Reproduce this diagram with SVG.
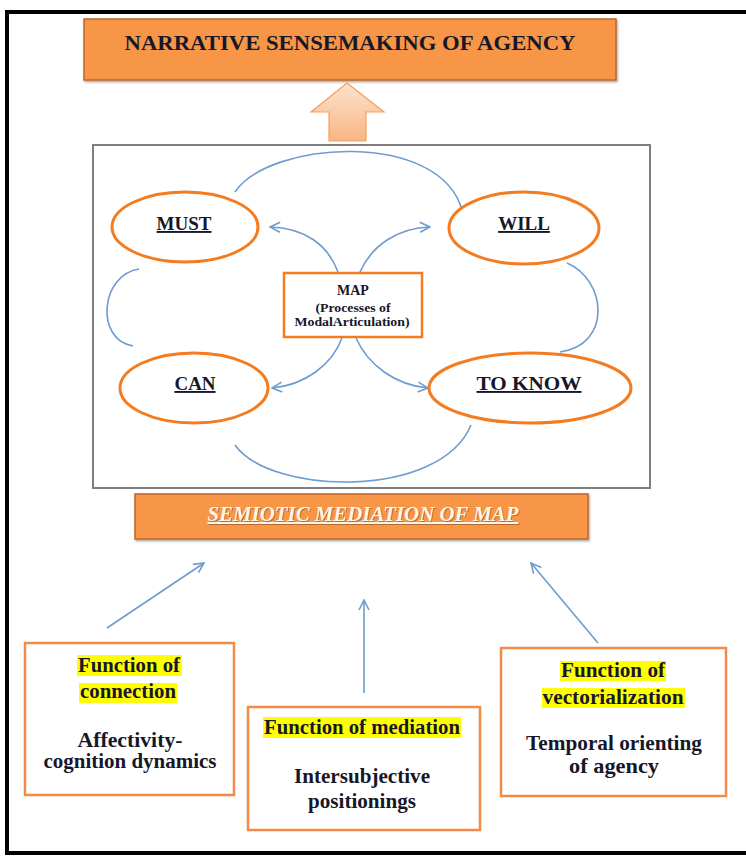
<svg xmlns="http://www.w3.org/2000/svg" width="746" height="856" viewBox="0 0 746 856">
<defs>
<style>
.ser{font-weight:bold;fill:#17172a}
.ell{fill:#fff;stroke:#f47c20;stroke-width:3}
.con{fill:none;stroke:#6e9bd1;stroke-width:1.6}
.fbox{fill:#fff;stroke:#f38b45;stroke-width:2.5}
.hl{fill:#ffff00}
.ob{fill:#f79646;stroke:#c0642a;stroke-width:1.5}
</style>
<linearGradient id="ag" x1="0" y1="0" x2="0" y2="1">
<stop offset="0" stop-color="#fde3cc"/>
<stop offset="1" stop-color="#f8b584"/>
</linearGradient>
<marker id="ah" viewBox="0 0 12 12" refX="11" refY="6" markerWidth="12" markerHeight="12" markerUnits="userSpaceOnUse" orient="auto">
<path d="M1,1 L11,6 L1,11" fill="none" stroke="#6e9bd1" stroke-width="1.6"/>
</marker>
<filter id="sh" x="-5%" y="-5%" width="110%" height="120%">
<feDropShadow dx="1" dy="1.5" stdDeviation="1" flood-color="#000" flood-opacity="0.35"/>
</filter>
</defs>
<rect x="0" y="0" width="746" height="856" fill="#fff"/>
<rect id="frame" x="7" y="12" width="760" height="841" fill="none" stroke="#000" stroke-width="4"/>

<g font-family="Liberation Serif, Times New Roman, serif">
<g id="title">
<rect class="ob" x="84" y="19" width="532" height="61" filter="url(#sh)"/>
<text class="ser" x="350" y="50" font-size="22" text-anchor="middle" textLength="451" lengthAdjust="spacingAndGlyphs">NARRATIVE  SENSEMAKING  OF AGENCY</text>
</g>

<g id="uparrow">
<path d="M347,83 L384,112 L366,112 L366,141 L329,141 L329,112 L311,112 Z" fill="url(#ag)" stroke="#f4a060" stroke-width="1.2"/>
</g>

<g id="inner">
<rect x="93" y="145" width="557" height="343" fill="#fff" stroke="#7f7f7f" stroke-width="2"/>
</g>

<g id="connectors">
<path class="con" d="M235,192 C270,140 440,130 462,210"/>
<path class="con" d="M567,263 C607,280 612,345 560,352"/>
<path class="con" d="M139,269 C100,275 95,340 133,346"/>
<path class="con" d="M235,445 C270,495 440,500 471,425"/>
<path class="con" d="M338,272 C328,245 305,228 270,227" marker-end="url(#ah)"/>
<path class="con" d="M360,272 C372,245 398,228 430,227" marker-end="url(#ah)"/>
<path class="con" d="M342,338 C332,365 305,385 272,388" marker-end="url(#ah)"/>
<path class="con" d="M356,338 C368,365 395,385 428,388" marker-end="url(#ah)"/>
<path class="con" d="M107,628 L204,563" marker-end="url(#ah)"/>
<path class="con" d="M364,693 L364,600" marker-end="url(#ah)"/>
<path class="con" d="M598,643 L531,563" marker-end="url(#ah)"/>
</g>

<g id="must">
<ellipse class="ell" cx="185" cy="227" rx="73" ry="35"/>
<text class="ser" x="184" y="230" font-size="19" text-anchor="middle" text-decoration="underline">MUST</text>
</g>
<g id="will">
<ellipse class="ell" cx="524" cy="228" rx="75" ry="36"/>
<text class="ser" x="524" y="230" font-size="19" text-anchor="middle" text-decoration="underline">WILL</text>
</g>
<g id="can">
<ellipse class="ell" cx="194" cy="388" rx="74" ry="35"/>
<text class="ser" x="195" y="390" font-size="19" text-anchor="middle" text-decoration="underline">CAN</text>
</g>
<g id="toknow">
<ellipse class="ell" cx="530" cy="388" rx="101" ry="35"/>
<text class="ser" x="529" y="390" font-size="19" text-anchor="middle" text-decoration="underline" textLength="105" lengthAdjust="spacingAndGlyphs">TO  KNOW</text>
</g>

<g id="map">
<rect x="284" y="273" width="138" height="64" fill="#fff" stroke="#f47c20" stroke-width="2.5"/>
<text class="ser" x="353" y="295" font-size="14" text-anchor="middle">MAP</text>
<text class="ser" x="353" y="312" font-size="12" text-anchor="middle" textLength="75" lengthAdjust="spacingAndGlyphs">(Processes of</text>
<text class="ser" x="352" y="326" font-size="12" text-anchor="middle" textLength="115" lengthAdjust="spacingAndGlyphs">ModalArticulation)</text>
</g>

<g id="semiotic">
<rect class="ob" x="135" y="494" width="453" height="45" filter="url(#sh)"/>
<text x="364" y="522" font-size="20" font-weight="bold" font-style="italic" text-anchor="middle" fill="#7a3d10" opacity="0.5" textLength="311" lengthAdjust="spacingAndGlyphs" text-decoration="underline">SEMIOTIC MEDIATION OF MAP</text>
<text x="363" y="521" font-size="20" font-weight="bold" font-style="italic" text-anchor="middle" fill="#fff6ea" textLength="311" lengthAdjust="spacingAndGlyphs" text-decoration="underline">SEMIOTIC MEDIATION OF MAP</text>
</g>

<g id="f-connection">
<rect class="fbox" x="25" y="643" width="209" height="152"/>
<rect class="hl" x="77" y="655" width="105" height="21"/>
<rect class="hl" x="79" y="683" width="98" height="20"/>
<text class="ser" x="129" y="672" font-size="20" text-anchor="middle" textLength="102" lengthAdjust="spacingAndGlyphs">Function of</text>
<text class="ser" x="128" y="698" font-size="20" text-anchor="middle" textLength="96" lengthAdjust="spacingAndGlyphs">connection</text>
<text class="ser" x="130" y="747" font-size="20" text-anchor="middle" textLength="105" lengthAdjust="spacingAndGlyphs">Affectivity-</text>
<text class="ser" x="130" y="768" font-size="20" text-anchor="middle" textLength="173" lengthAdjust="spacingAndGlyphs">cognition dynamics</text>
</g>

<g id="f-mediation">
<rect class="fbox" x="248" y="707" width="232" height="123"/>
<rect class="hl" x="263" y="717" width="198" height="21"/>
<text class="ser" x="362" y="734" font-size="20" text-anchor="middle" textLength="196" lengthAdjust="spacingAndGlyphs">Function of mediation</text>
<text class="ser" x="362" y="783" font-size="20" text-anchor="middle" textLength="136" lengthAdjust="spacingAndGlyphs">Intersubjective</text>
<text class="ser" x="362" y="808" font-size="20" text-anchor="middle" textLength="108" lengthAdjust="spacingAndGlyphs">positionings</text>
</g>

<g id="f-vectorialization">
<rect class="fbox" x="501" y="648" width="225" height="148"/>
<rect class="hl" x="560" y="661" width="106" height="20"/>
<rect class="hl" x="542" y="688" width="143" height="20"/>
<text class="ser" x="613" y="677" font-size="20" text-anchor="middle" textLength="104" lengthAdjust="spacingAndGlyphs">Function of</text>
<text class="ser" x="613" y="704" font-size="20" text-anchor="middle" textLength="141" lengthAdjust="spacingAndGlyphs">vectorialization</text>
<text class="ser" x="614" y="750" font-size="20" text-anchor="middle" textLength="176" lengthAdjust="spacingAndGlyphs">Temporal orienting</text>
<text class="ser" x="614" y="773" font-size="20" text-anchor="middle" textLength="90" lengthAdjust="spacingAndGlyphs">of agency</text>
</g>
</g>
</svg>
